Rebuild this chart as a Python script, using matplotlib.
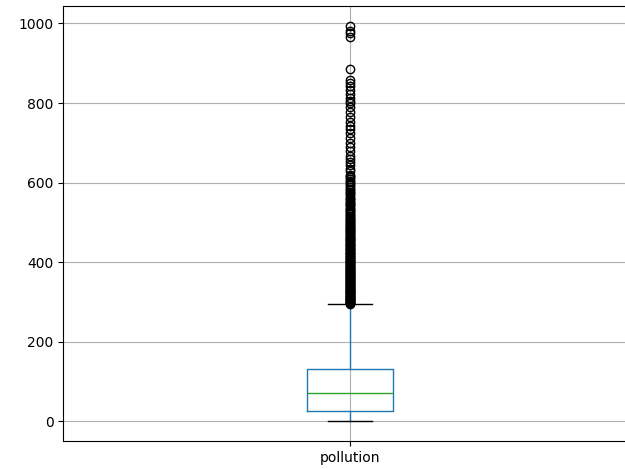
import matplotlib
matplotlib.use('Agg')
import matplotlib.pyplot as plt

label = 'pollution'
q1, med, q3 = 26, 70, 131
whislo, whishi = 0, 294

fliers_dense = [295, 296, 297, 298, 300, 301, 302, 304, 305, 306, 308, 309, 310, 312,
                313, 315, 316, 318, 319, 321, 322, 324, 325, 327, 328, 330, 331, 333,
                334, 336, 338, 339, 341, 342, 344, 346, 347, 349, 350, 352, 354, 355,
                357, 359, 360, 362, 364, 365, 367, 369, 370, 372, 374, 376, 377, 379,
                381, 383, 384, 386, 388, 390, 392, 393, 395, 397, 399, 401, 403, 404,
                406, 408, 410, 412, 414, 416, 418, 420, 422, 424, 426, 428, 430, 432,
                434, 436, 438, 440, 442, 444, 446, 448, 450, 452, 455, 457, 459, 461,
                463, 466, 468, 470, 472, 475, 477, 479, 482, 484, 486, 489, 491, 494,
                496, 499, 501, 504, 506, 509, 512, 514, 517, 520, 522, 525, 528, 531,
                534, 537, 540, 543, 546, 549, 552, 556, 559, 562, 566, 570, 573, 577,
                581, 585, 589, 593, 597, 601, 605, 609, 613, 617, 620]
fliers_sparse = [628, 635, 645, 652, 660, 668, 680, 690, 700, 712, 725, 735, 742, 752,
                 765, 778, 790, 800, 806, 812, 822, 832, 842, 850, 858, 885,
                 965, 975, 982, 994]

stats = [{
    'label': label, 'q1': q1, 'med': med, 'q3': q3,
    'whislo': whislo, 'whishi': whishi,
    'fliers': fliers_dense + fliers_sparse,
}]

fig = plt.figure(figsize=(6.25, 4.69), dpi=100)
ax = fig.add_axes([0.101, 0.0597, 0.918, 0.9275])
ax.bxp(stats,
       boxprops=dict(color='C0'),
       whiskerprops=dict(color='C0'),
       medianprops=dict(color='C2'),
       capprops=dict(color='k'),
       flierprops=dict(markeredgecolor='k'))
ax.grid(True)
ax.set_ylim(-50, 1044)
ax.tick_params(labelsize=10)

fig.savefig('out.png', dpi=100)
